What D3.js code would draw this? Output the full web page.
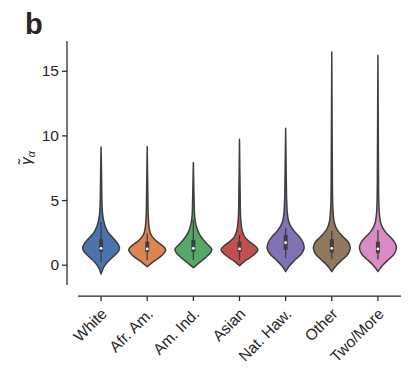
<!DOCTYPE html>
<html><head><meta charset="utf-8">
<script src="https://cdn.jsdelivr.net/npm/d3@7"></script>
<style>body{margin:0;background:#fff}svg{display:block}text{font-family:"Liberation Sans",Arial,sans-serif;fill:#262626}</style>
</head><body><svg id="c" width="409" height="378"></svg>
<script>
const categories = ["White","Afr. Am.","Am. Ind.","Asian","Nat. Haw.","Other","Two/More"];
const colors = ["#4C72B0","#DD8452","#55A868","#C44E52","#8172B3","#937860","#DA8BC3"];
const yTicks = [0,5,10,15];
// density profiles: [value, relative half-width]
const dWhite = [[-0.72,0],[-0.26,0.12],[0.2,0.35],[0.67,0.7],[1.06,0.95],[1.3,1],[1.6,0.92],[2.07,0.65],[2.5,0.38],[3.0,0.22],[3.46,0.13],[4.1,0.07],[5,0.045],[6.5,0.03],[9.1,0]];
const dAfr = [[-0.15,0],[0.2,0.3],[0.6,0.7],[0.98,0.95],[1.19,1],[1.45,0.85],[1.76,0.55],[2.15,0.28],[2.53,0.15],[3.07,0.09],[3.85,0.055],[5.4,0.035],[9.14,0]];
const dInd = [[-0.23,0],[0.13,0.3],[0.6,0.7],[0.98,0.95],[1.19,1],[1.53,0.8],[1.91,0.55],[2.38,0.32],[2.84,0.19],[3.3,0.11],[3.85,0.065],[5.0,0.04],[7.9,0]];
const dAsian = [[-0.08,0],[0.29,0.3],[0.67,0.7],[0.98,0.93],[1.19,1],[1.45,0.85],[1.76,0.55],[2.15,0.28],[2.61,0.15],[3.15,0.09],[3.85,0.055],[5.4,0.035],[9.71,0]];
const dHaw = [[-0.54,0],[-0.1,0.2],[0.36,0.5],[0.83,0.85],[1.22,0.99],[1.39,1],[1.76,0.93],[2.15,0.75],[2.53,0.5],[2.92,0.3],[3.38,0.16],[4.0,0.09],[5.0,0.055],[6.56,0.035],[10.56,0]];
const dOther = [[-0.54,0],[-0.1,0.22],[0.36,0.55],[0.83,0.88],[1.27,1],[1.68,0.92],[2.07,0.68],[2.46,0.42],[2.84,0.24],[3.3,0.13],[4.0,0.075],[5.0,0.045],[7.3,0.03],[16.45,0]];
const dTwo = [[-0.54,0],[-0.1,0.22],[0.36,0.55],[0.83,0.88],[1.27,1],[1.68,0.93],[2.07,0.72],[2.46,0.45],[2.84,0.26],[3.3,0.14],[4.0,0.075],[5.0,0.045],[7.3,0.03],[16.17,0]];
const densities = [dWhite,dAfr,dInd,dAsian,dHaw,dOther,dTwo];
// inner box stats: [whiskerLow, q1, median, q3, whiskerHigh]
const boxStats = [[0.2,1.0,1.27,1.97,3.3],[0.36,1.0,1.22,1.78,2.43],[0.36,1.0,1.27,1.91,3.46],[0.36,1.0,1.22,1.78,2.3],[0.5,1.14,1.7,2.3,2.82],[0.42,0.93,1.27,1.97,2.6],[0.42,0.88,1.22,1.78,2.69]];

const svg = d3.select("#c");
const x = d3.scaleBand().domain(categories).range([78,401]).padding(0);
const y = d3.scaleLinear().domain([-1.57,17.3]).range([285,41]);
const half = x.bandwidth()*0.4;
const dark = "#3f3f3f";

categories.forEach((c,i)=>{
  const cx = x(c)+x.bandwidth()/2;
  const area = d3.area().curve(d3.curveCatmullRom.alpha(0.5))
    .y(d=>y(d[0])).x0(d=>cx-d[1]*half).x1(d=>cx+d[1]*half);
  svg.append("path").attr("d",area(densities[i]))
    .attr("fill",colors[i]).attr("stroke",dark).attr("stroke-width",1.5).attr("stroke-linejoin","round");
  const b = boxStats[i];
  svg.append("line").attr("x1",cx).attr("x2",cx).attr("y1",y(b[0])).attr("y2",y(b[4]))
    .attr("stroke",dark).attr("stroke-width",1.3);
  svg.append("rect").attr("x",cx-2).attr("width",4).attr("y",y(b[3])).attr("height",y(b[1])-y(b[3]))
    .attr("fill",dark);
  svg.append("circle").attr("cx",cx).attr("cy",y(b[2])).attr("r",1.4).attr("fill","#fff");
});

// y axis
const yAxis = svg.append("g").attr("transform","translate(67,0)")
  .call(d3.axisLeft(y).tickValues(yTicks).tickSize(5).tickPadding(3));
yAxis.select(".domain").attr("d","M0,41V285").attr("stroke","#262626").attr("stroke-width",1.25);
yAxis.selectAll(".tick line").attr("stroke","#262626").attr("stroke-width",1.25);
yAxis.selectAll(".tick text").attr("font-size",15.5).attr("fill","#262626").attr("font-family","Liberation Sans, Arial, sans-serif");

// x axis
const xAxis = svg.append("g").attr("transform","translate(0,296)")
  .call(d3.axisBottom(x).tickSize(5).tickPadding(3));
xAxis.select(".domain").attr("d","M78,0H401").attr("stroke","#262626").attr("stroke-width",1.25);
xAxis.selectAll(".tick line").attr("stroke","#262626").attr("stroke-width",1.25);
xAxis.selectAll(".tick text").attr("font-size",15.5).attr("fill","#262626")
  .attr("font-family","Liberation Sans, Arial, sans-serif")
  .attr("text-anchor","end").attr("dy","0.35em")
  .attr("transform","translate(3,15) rotate(-45)").attr("y",0).attr("x",0);

// y label
const yl = svg.append("text").attr("transform","translate(31,158) rotate(-90)")
  .attr("text-anchor","middle").attr("font-family","DejaVu Sans").attr("font-size",15);
yl.append("tspan").attr("font-style","italic").text("\u03B3\u0303");
yl.append("tspan").attr("font-style","italic").attr("font-size",10.5).attr("dy",4).text("\u03B1");

// panel label
svg.append("text").attr("x",25).attr("y",34).attr("font-size",29).attr("font-weight","bold")
  .attr("font-family","Liberation Sans, Arial, sans-serif").text("b");
</script></body></html>
